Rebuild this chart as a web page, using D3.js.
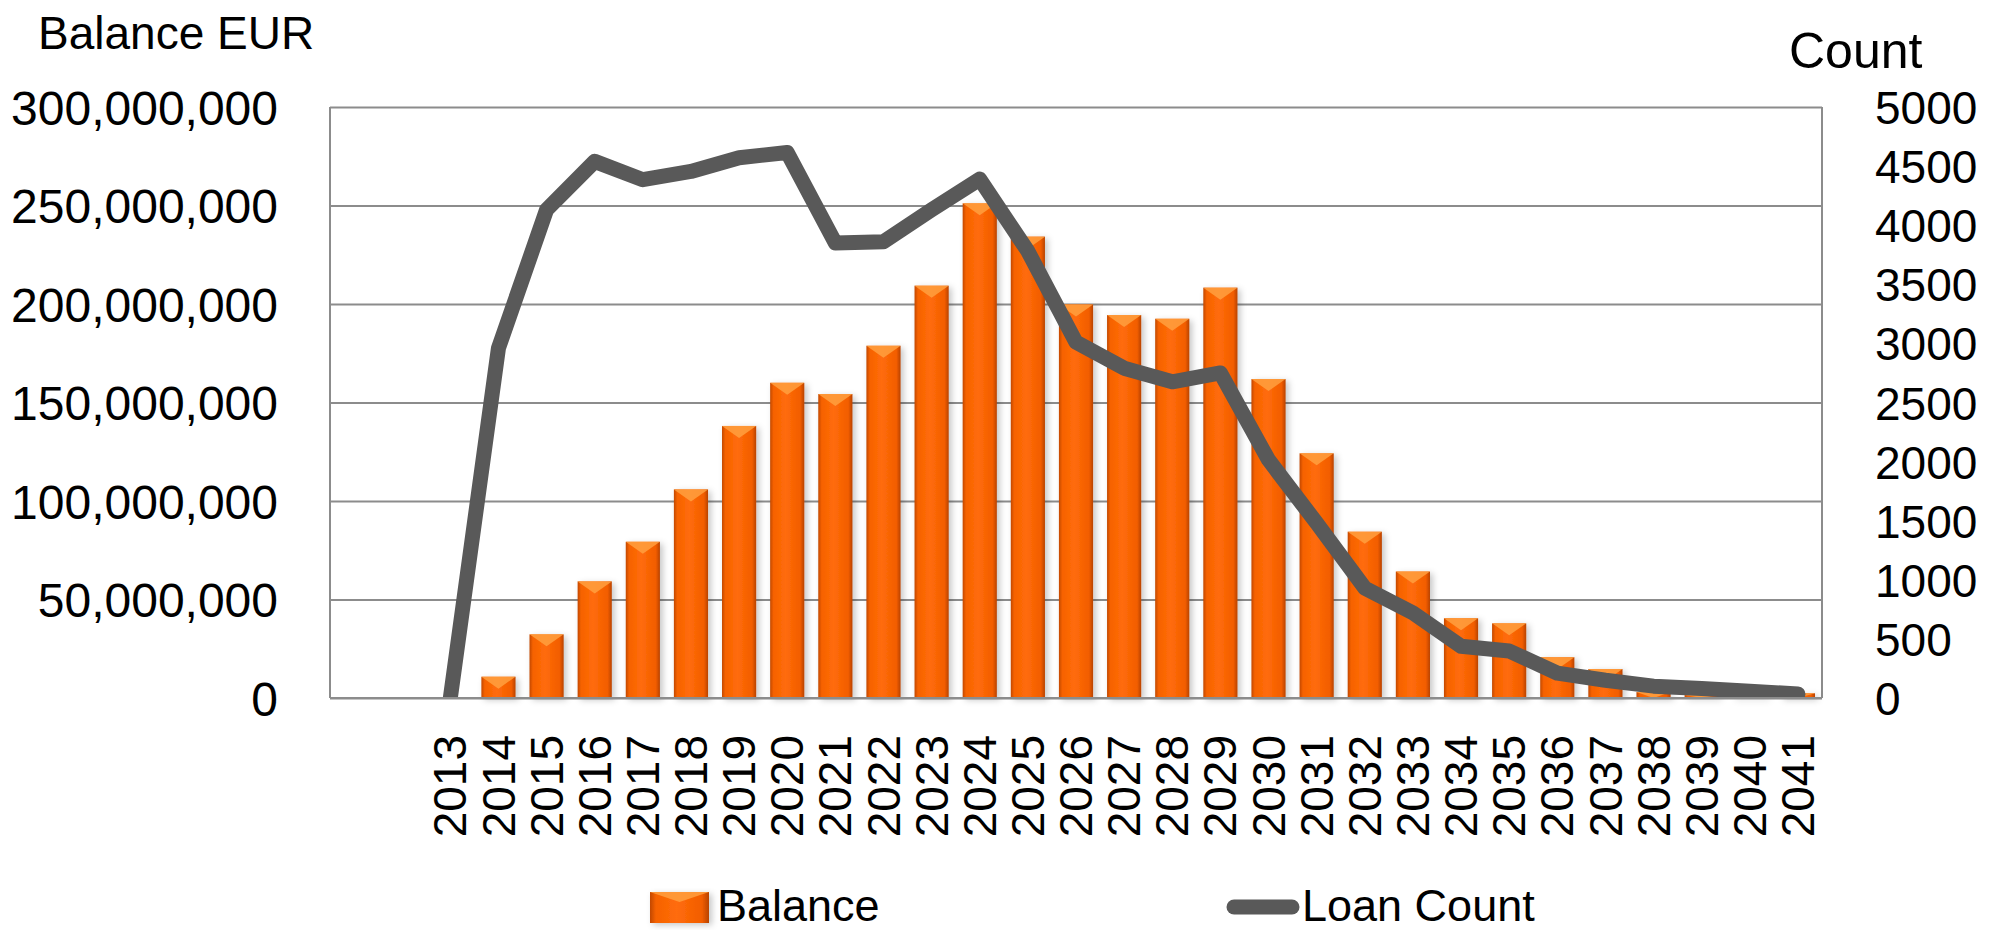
<!DOCTYPE html>
<html>
<head>
<meta charset="utf-8">
<script src="https://cdn.jsdelivr.net/npm/d3@7"></script>
<style>
  html, body { margin: 0; padding: 0; background: #ffffff; }
  svg { display: block; font-family: "Liberation Sans", Arial, sans-serif; }
</style>
</head>
<body>
<div id="chart"></div>
<script>
// Two blank slots come before 2013 on the category axis
const categories = ["", " ", "2013", "2014", "2015", "2016", "2017", "2018", "2019", "2020",
  "2021", "2022", "2023", "2024", "2025", "2026", "2027", "2028", "2029", "2030",
  "2031", "2032", "2033", "2034", "2035", "2036", "2037", "2038", "2039", "2040", "2041"];

// Balance in EUR (millions), null = no bar
const balanceM = [null, null, 0, 10.8, 32.3, 59.2, 79.3, 105.9, 138.1, 160.0,
  154.3, 178.8, 209.3, 251.1, 234.2, 199.8, 194.4, 192.5, 208.3, 161.9,
  124.2, 84.4, 64.2, 40.5, 37.9, 20.7, 14.7, 3.0, 1.5, 1.0, 2.4];

// Loan count (line), null = no point
const loanCount = [null, null, 0, 2960, 4130, 4540, 4385, 4455, 4570, 4615,
  3850, 3860, 4130, 4390, 3780, 3010, 2790, 2675, 2750, 2015,
  1480, 930, 720, 438, 398, 210, 150, 100, 80, 58, 34];

const balanceTicks = [0, 50000000, 100000000, 150000000, 200000000, 250000000, 300000000];
const countTicks = [0, 500, 1000, 1500, 2000, 2500, 3000, 3500, 4000, 4500, 5000];

const width = 2004;
const height = 931;

// Plot area
const plotLeft = 330;
const plotRight = 1822;
const plotTop = 107;
const plotBottom = 698;

const lineColor = "#595959";
const gridColor = "#8C8C8C";

const svg = d3.select("#chart")
  .append("svg")
  .attr("width", width)
  .attr("height", height)
  .attr("viewBox", `0 0 ${width} ${height}`);

// Gradient + shadow for the bevelled bars
const defs = svg.append("defs");
const grad = defs.append("linearGradient")
  .attr("id", "barGrad")
  .attr("x1", "0").attr("x2", "1").attr("y1", "0").attr("y2", "0");
[["0%", "#C24800"], ["10%", "#F66200"], ["45%", "#FF6C0A"], ["88%", "#F25D00"], ["100%", "#B84300"]]
  .forEach(s => grad.append("stop").attr("offset", s[0]).attr("stop-color", s[1]));

const shadow = defs.append("filter")
  .attr("id", "barShadow")
  .attr("x", "-30%").attr("y", "-10%").attr("width", "160%").attr("height", "130%");
shadow.append("feDropShadow")
  .attr("dx", 3).attr("dy", 2)
  .attr("stdDeviation", 3)
  .attr("flood-color", "#000")
  .attr("flood-opacity", 0.22);

defs.append("clipPath").attr("id", "plotClip")
  .append("rect")
  .attr("x", plotLeft - 10).attr("y", 0)
  .attr("width", plotRight - plotLeft + 20).attr("height", plotBottom + 1);

// Scales
const x = d3.scaleBand()
  .domain(categories)
  .range([plotLeft, plotRight])
  .paddingInner(0.29)
  .paddingOuter(0.145);

const yLeft = d3.scaleLinear()
  .domain([0, 300000000])
  .range([plotBottom, plotTop]);

const yRight = d3.scaleLinear()
  .domain([0, 5000])
  .range([plotBottom, plotTop]);

// Gridlines
const grid = svg.append("g")
  .attr("transform", `translate(${plotLeft},0)`)
  .call(d3.axisLeft(yLeft).tickValues(balanceTicks).tickSize(-(plotRight - plotLeft)).tickFormat(""));
grid.select(".domain").remove();
grid.selectAll("line")
  .attr("stroke", gridColor)
  .attr("stroke-width", 2);

// Plot border left and right
svg.append("line")
  .attr("x1", plotLeft).attr("x2", plotLeft).attr("y1", plotTop).attr("y2", plotBottom)
  .attr("stroke", gridColor).attr("stroke-width", 2);
svg.append("line")
  .attr("x1", plotRight).attr("x2", plotRight).attr("y1", plotTop).attr("y2", plotBottom)
  .attr("stroke", gridColor).attr("stroke-width", 2);

// Bars
const barData = categories.map((c, i) => ({ cat: c, v: balanceM[i] }))
  .filter(d => d.v !== null && d.v > 0);

const bars = svg.append("g").attr("filter", "url(#barShadow)");
bars.selectAll("rect")
  .data(barData)
  .join("rect")
  .attr("x", d => x(d.cat))
  .attr("y", d => yLeft(d.v * 1e6))
  .attr("width", x.bandwidth())
  .attr("height", d => plotBottom - yLeft(d.v * 1e6))
  .attr("fill", "url(#barGrad)");

// Bevel highlight at the top of each bar
svg.append("g").selectAll("polygon")
  .data(barData)
  .join("polygon")
  .attr("points", d => {
    const x0 = x(d.cat);
    const x1 = x0 + x.bandwidth();
    const y0 = yLeft(d.v * 1e6);
    const b = Math.min(12, plotBottom - y0);
    return `${x0},${y0} ${x1},${y0} ${(x0 + x1) / 2},${y0 + b}`;
  })
  .attr("fill", "#FFA040")
  .attr("opacity", 0.85);

// Loan count line
const line = d3.line()
  .defined(d => d.v !== null)
  .x(d => x(d.cat) + x.bandwidth() / 2)
  .y(d => yRight(d.v));

svg.append("path")
  .datum(categories.map((c, i) => ({ cat: c, v: loanCount[i] })))
  .attr("clip-path", "url(#plotClip)")
  .attr("fill", "none")
  .attr("stroke", lineColor)
  .attr("stroke-width", 15)
  .attr("stroke-linejoin", "round")
  .attr("stroke-linecap", "round")
  .attr("d", line);

// Bottom axis line
svg.append("line")
  .attr("x1", plotLeft).attr("x2", plotRight).attr("y1", plotBottom).attr("y2", plotBottom)
  .attr("stroke", gridColor).attr("stroke-width", 2);

// Left axis labels
const leftAxis = svg.append("g")
  .attr("transform", `translate(${plotLeft},0)`)
  .call(d3.axisLeft(yLeft).tickValues(balanceTicks).tickSize(0).tickPadding(52).tickFormat(d3.format(",")));
leftAxis.select(".domain").remove();
leftAxis.selectAll("text")
  .attr("font-family", "Liberation Sans, Arial, sans-serif")
  .attr("font-size", 48)
  .attr("fill", "#000")
  .attr("dy", "0.36em");

// Right axis labels
const rightAxis = svg.append("g")
  .attr("transform", `translate(${plotRight},0)`)
  .call(d3.axisRight(yRight).tickValues(countTicks).tickSize(0).tickPadding(53).tickFormat(d3.format("d")));
rightAxis.select(".domain").remove();
rightAxis.selectAll("text")
  .attr("font-family", "Liberation Sans, Arial, sans-serif")
  .attr("font-size", 46)
  .attr("fill", "#000")
  .attr("dy", "0.36em");

// Category labels, rotated
const xAxis = svg.append("g")
  .attr("transform", `translate(0,${plotBottom})`)
  .call(d3.axisBottom(x).tickSize(0));
xAxis.select(".domain").remove();
xAxis.selectAll("text")
  .attr("font-family", "Liberation Sans, Arial, sans-serif")
  .attr("font-size", 46)
  .attr("fill", "#000")
  .attr("transform", "rotate(-90)")
  .attr("text-anchor", "end")
  .attr("x", -37)
  .attr("y", 0)
  .attr("dy", "0.35em");

// Axis titles
svg.append("text")
  .attr("x", 38)
  .attr("y", 49)
  .attr("font-size", 46)
  .attr("fill", "#000")
  .text("Balance EUR");

svg.append("text")
  .attr("x", 1789)
  .attr("y", 68)
  .attr("font-size", 50)
  .attr("fill", "#000")
  .text("Count");

// Legend
const legBal = svg.append("g").attr("transform", "translate(650,892)");
legBal.append("rect")
  .attr("width", 59).attr("height", 31)
  .attr("fill", "url(#barGrad)")
  .attr("filter", "url(#barShadow)");
legBal.append("polygon")
  .attr("points", "0,0 59,0 29.5,10")
  .attr("fill", "#FFA040")
  .attr("opacity", 0.85);
legBal.append("text")
  .attr("x", 67).attr("y", 29)
  .attr("font-size", 45)
  .attr("fill", "#000")
  .text("Balance");

const legLine = svg.append("g").attr("transform", "translate(1227,907)");
legLine.append("line")
  .attr("x1", 7).attr("x2", 65).attr("y1", 0).attr("y2", 0)
  .attr("stroke", lineColor)
  .attr("stroke-width", 15)
  .attr("stroke-linecap", "round");
legLine.append("text")
  .attr("x", 75).attr("y", 14)
  .attr("font-size", 45)
  .attr("fill", "#000")
  .text("Loan Count");
</script>
</body>
</html>
